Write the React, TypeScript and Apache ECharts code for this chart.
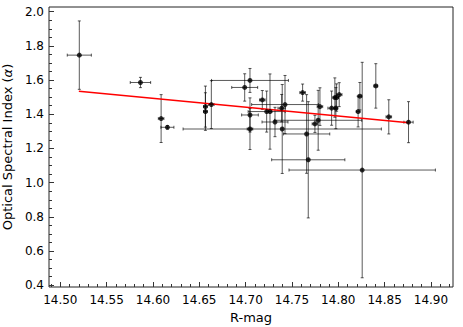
import React, { useEffect, useRef } from "react";
import * as echarts from "echarts";

// Data
const rMag = [
  14.5205, 14.5865, 14.6088, 14.6156, 14.6566, 14.6566, 14.663, 14.699, 14.7047, 14.7047,
  14.7047, 14.718, 14.7227, 14.7263, 14.7317, 14.7389, 14.7395, 14.7425, 14.7615, 14.7658,
  14.7676, 14.7748, 14.7783, 14.7802, 14.7928, 14.7963, 14.7974, 14.7982, 14.801, 14.8214,
  14.8233, 14.8258, 14.8405, 14.8545, 14.8758,
];
const alpha = [
  1.746, 1.586, 1.375, 1.324, 1.445, 1.416, 1.457, 1.557, 1.598, 1.396,
  1.314, 1.484, 1.416, 1.416, 1.355, 1.436, 1.314, 1.457, 1.527, 1.285,
  1.134, 1.344, 1.365, 1.445, 1.436, 1.498, 1.436, 1.498, 1.515, 1.416,
  1.506, 1.074, 1.566, 1.385, 1.354,
];
const rMagErr = [
  0.013, 0.011, 0.003, 0.007, 0.002, 0.002, 0.003, 0.014, 0.0415, 0.009,
  0.003, 0.003, 0.02, 0.002, 0.014, 0.004, 0.107, 0.036, 0.003, 0.025,
  0.0395, 0.003, 0.047, 0.003, 0.004, 0.002, 0.002, 0.002, 0.003, 0.002,
  0.002, 0.079, 0.002, 0.003, 0.005,
];
const alphaErr = [
  0.2, 0.03, 0.14, 0.01, 0.12, 0.11, 0.14, 0.08, 0.07, 0.1,
  0.12, 0.055, 0.12, 0.22, 0.086, 0.08, 0.26, 0.17, 0.05, 0.23,
  0.34, 0.05, 0.175, 0.11, 0.1, 0.115, 0.12, 0.08, 0.07, 0.09,
  0.08, 0.63, 0.13, 0.1, 0.12,
];
const fitX = [14.52, 14.876];
const fitY = [1.535, 1.35];

const xMajorTicks = [14.5, 14.55, 14.6, 14.65, 14.7, 14.75, 14.8, 14.85, 14.9];
const yMajorTicks = [0.4, 0.6, 0.8, 1.0, 1.2, 1.4, 1.6, 1.8, 2.0];

const X_MIN = 14.4878;
const X_MAX = 14.9238;
const Y_MIN = 0.39;
const Y_MAX = 2.0275;

function minorTicks(start: number, end: number, step: number, majors: number[]) {
  const out: number[] = [];
  const n = Math.round((end - start) / step);
  for (let i = 0; i <= n; i++) {
    const v = +(start + i * step).toFixed(4);
    if (!majors.some((m) => Math.abs(m - v) < 1e-6)) out.push(v);
  }
  return out;
}
const xMinorTicks = minorTicks(14.49, 14.92, 0.01, xMajorTicks);
const yMinorTicks = minorTicks(0.4, 2.0, 0.05, yMajorTicks);

const FONT = "DejaVu Sans";

export default function App() {
  const ref = useRef<HTMLDivElement>(null);
  useEffect(() => {
    if (!ref.current) return;
    const chart = echarts.init(ref.current, undefined, { renderer: "svg" });
    const errData = rMag.map((x, i) => [x, alpha[i], rMagErr[i], alphaErr[i]]);
    const ptData = rMag.map((x, i) => [x, alpha[i]]);
    const fitData = fitX.map((x, i) => [x, fitY[i]]);
    const tickColor = "#333";
    const baseX = {
      type: "value",
      min: X_MIN,
      max: X_MAX,
      position: "bottom",
      splitLine: { show: false },
      axisLine: { show: false },
    };
    const baseY = {
      type: "value",
      min: Y_MIN,
      max: Y_MAX,
      position: "left",
      splitLine: { show: false },
      axisLine: { show: false },
    };
    chart.setOption({
      animation: false,
      grid: {
        left: 49,
        top: 7,
        right: 10,
        bottom: 40,
        containLabel: false,
        outerBoundsMode: "none",
        show: true,
        borderColor: "#222",
        borderWidth: 1,
        backgroundColor: "transparent",
      },
      xAxis: [
        {
          ...baseX,
          name: "R-mag",
          nameLocation: "middle",
          nameGap: 19,
          nameTextStyle: { fontFamily: FONT, fontSize: 13, color: "#000" },
          axisTick: {
            show: true,
            inside: true,
            length: 5,
            customValues: xMajorTicks,
            lineStyle: { color: tickColor },
          },
          axisLabel: {
            show: true,
            customValues: xMajorTicks,
            formatter: (v: number) => v.toFixed(2),
            fontFamily: FONT,
            fontSize: 12,
            color: "#000",
            margin: 7,
          },
        },
        {
          ...baseX,
          axisTick: {
            show: true,
            inside: true,
            length: 3,
            customValues: xMinorTicks,
            lineStyle: { color: tickColor },
          },
          axisLabel: { show: false },
        },
      ],
      yAxis: [
        {
          ...baseY,
          name: "{n|Optical Spectral Index (}{a|α}{n|)}",
          nameLocation: "middle",
          nameGap: 31,
          nameRotate: 90,
          nameTextStyle: {
            fontFamily: FONT,
            fontSize: 13,
            color: "#000",
            rich: {
              n: { fontFamily: FONT, fontSize: 13, color: "#000" },
              a: { fontFamily: FONT, fontSize: 13, color: "#000", fontStyle: "italic" },
            },
          },
          axisTick: {
            show: true,
            inside: true,
            length: 5,
            customValues: yMajorTicks,
            lineStyle: { color: tickColor },
          },
          axisLabel: {
            show: true,
            customValues: yMajorTicks,
            formatter: (v: number) => v.toFixed(1),
            fontFamily: FONT,
            fontSize: 12,
            color: "#000",
            margin: 5,
          },
        },
        {
          ...baseY,
          axisTick: {
            show: true,
            inside: true,
            length: 3,
            customValues: yMinorTicks,
            lineStyle: { color: tickColor },
          },
          axisLabel: { show: false },
        },
      ],
      series: [
        {
          type: "custom",
          xAxisIndex: 0,
          yAxisIndex: 0,
          data: errData,
          encode: { x: 0, y: 1 },
          renderItem: (params: any, api: any) => {
            const x = api.value(0);
            const y = api.value(1);
            const xe = api.value(2);
            const ye = api.value(3);
            const l = api.coord([x - xe, y]);
            const r = api.coord([x + xe, y]);
            const t = api.coord([x, y + ye]);
            const b = api.coord([x, y - ye]);
            const cap = 1.5;
            const style = { stroke: "rgba(0,0,0,0.65)", lineWidth: 1 };
            const ln = (x1: number, y1: number, x2: number, y2: number) => ({
              type: "line",
              shape: { x1, y1, x2, y2 },
              style,
            });
            return {
              type: "group",
              children: [
                ln(l[0], l[1], r[0], r[1]),
                ln(t[0], t[1], b[0], b[1]),
                ln(l[0], l[1] - cap, l[0], l[1] + cap),
                ln(r[0], r[1] - cap, r[0], r[1] + cap),
                ln(t[0] - cap, t[1], t[0] + cap, t[1]),
                ln(b[0] - cap, b[1], b[0] + cap, b[1]),
              ],
            };
          },
          z: 2,
        },
        {
          type: "line",
          data: fitData,
          showSymbol: false,
          symbol: "none",
          lineStyle: { color: "#ff0000", width: 1.5 },
          z: 3,
        },
        {
          type: "scatter",
          data: ptData,
          symbol: "circle",
          symbolSize: 5,
          itemStyle: { color: "#000" },
          z: 4,
        },
      ],
    });
    return () => chart.dispose();
  }, []);
  return <div ref={ref} style={{ width: 463, height: 327, position: "absolute", left: 0, top: 0 }} />;
}
